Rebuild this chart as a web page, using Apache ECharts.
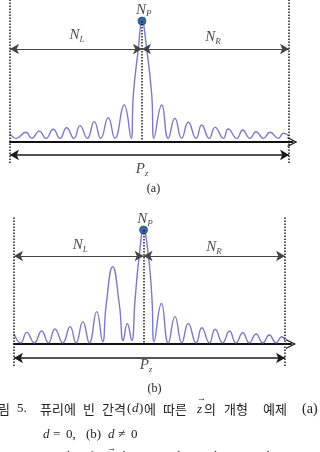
<!DOCTYPE html>
<html>
<head>
<meta charset="utf-8">
<script src="https://cdn.jsdelivr.net/npm/echarts@6/dist/echarts.min.js"></script>
<style>
  html, body { margin: 0; padding: 0; background: #fff; }
  #chart { width: 320px; height: 452px; }
</style>
</head>
<body>
<div id="chart"></div>
<script>
// position along P_z (% of the span) and normalised magnitude
// (a) d = 0
const posA = [0, 2.2, 5.7, 7.8, 10.5, 12.9, 15.5, 17.9, 20.3, 22.9,
  25.1, 27.7, 30.2, 32.5, 35.2, 37.6, 40.9, 43.4, 44.2, 46.0,
  47.3, 49.0, 50.8, 51.6, 54.4, 56.7, 59.1, 61.5, 63.9, 66.7,
  68.7, 71.4, 73.5, 76.5, 78.2, 81.3, 83.4, 86.0, 88.2, 90.8,
  93.2, 96.2, 98.0, 100];
const magA = [0.07, 0.03, 0.08, 0.03, 0.09, 0.03, 0.105, 0.03, 0.118, 0.03,
  0.135, 0.03, 0.168, 0.03, 0.20, 0.03, 0.306, 0.03, 0.39, 0.77,
  1.0, 0.77, 0.39, 0.03, 0.306, 0.03, 0.196, 0.03, 0.163, 0.03,
  0.14, 0.03, 0.121, 0.03, 0.107, 0.03, 0.099, 0.03, 0.085, 0.03,
  0.08, 0.03, 0.072, 0.05];
const peakA = [47.3, 1.0];

// (b) d != 0
const posB = [0, 2.5, 4.7, 7.5, 10.2, 12.7, 15.1, 18.0, 20.7, 22.9,
  25.4, 27.8, 30.5, 32.7, 34.0, 36.4, 38.9, 40.3, 41.8, 43.4,
  44.7, 46.2, 47.8, 49.6, 50.9, 51.7, 54.4, 56.9, 59.4, 61.9,
  64.3, 67.2, 69.3, 72.1, 74.2, 77.0, 79.5, 81.9, 84.4, 86.8,
  89.3, 91.8, 94.2, 96.7, 98.8, 100];
const magB = [0.09, 0.01, 0.102, 0.01, 0.114, 0.01, 0.132, 0.01, 0.152, 0.01,
  0.196, 0.01, 0.284, 0.02, 0.34, 0.678, 0.34, 0.03, 0.18, 0.03,
  0.4, 0.772, 1.0, 0.772, 0.4, 0.02, 0.355, 0.01, 0.24, 0.01,
  0.18, 0.01, 0.143, 0.01, 0.129, 0.01, 0.114, 0.01, 0.099, 0.01,
  0.088, 0.01, 0.079, 0.01, 0.064, 0.03];
const peakB = [47.8, 1.0];

const waveColor = '#7a7ac8';
const ink = '#1a1a1a';
const serif = '"Liberation Serif", "DejaVu Serif", serif';
const kr = '"Noto Sans CJK KR", sans-serif';
const chevron = 'path://M0,10 L5,0 L10,10 L8.7,10 L5,2.6 L1.3,10 Z';

// troughs are emitted twice so the smoothed line keeps a sharp |sinc|-like notch
function wavePoints(xs, ys) {
  const out = [];
  xs.forEach((x, i) => {
    out.push([x, ys[i]]);
    if (i > 0 && i < ys.length - 1 && ys[i] < ys[i - 1] && ys[i] < ys[i + 1]) {
      out.push([x, ys[i]]);
    }
  });
  return out;
}
const sub = (main, s) => '{n|' + main + '}{s|' + s + '}';

const labelRich = {
  n: { fontFamily: serif, fontStyle: 'italic', fontSize: 15, lineHeight: 16, color: ink, verticalAlign: 'top' },
  s: { fontFamily: serif, fontStyle: 'italic', fontSize: 9, lineHeight: 10, color: ink, verticalAlign: 'bottom', padding: [8, 0, 0, 0] }
};

function panel(i, pos, mag, peak, ann) {
  return [
    {
      type: 'line', xAxisIndex: i, yAxisIndex: i,
      data: wavePoints(pos, mag),
      smooth: 0.5, showSymbol: false, z: 2,
      lineStyle: { color: waveColor, width: 1.4 },
      markLine: {
        silent: true, animation: false, symbol: ['none', 'none'],
        label: { show: false },
        lineStyle: { color: ink, width: 1.5, type: [1.5, 1.5] },
        data: [
          { xAxis: 0 },
          { xAxis: 100 },
          [{ coord: [peak[0], peak[1]] }, { coord: [peak[0], 0] }]
        ]
      }
    },
    {
      type: 'scatter', xAxisIndex: i, yAxisIndex: i, z: 4,
      data: [peak], symbolSize: 8,
      itemStyle: { color: '#3468a6', borderColor: '#23507f', borderWidth: 0.8, opacity: 1 }
    },
    {
      type: 'scatter', xAxisIndex: i, yAxisIndex: i, z: 5,
      symbolSize: 0, clip: false, silent: true,
      label: { show: true, position: 'inside', rich: labelRich },
      data: [
        { value: ann.nl, label: { formatter: sub('N', 'L') } },
        { value: ann.nr, label: { formatter: sub('N', 'R') } },
        { value: ann.np, label: { formatter: sub('N', 'P') } },
        { value: ann.pz, label: { formatter: sub('P', 'z') } }
      ],
      markLine: {
        silent: true, animation: false,
        symbol: ['arrow', 'arrow'], symbolSize: [8, 9],
        label: { show: false },
        data: [
          [{ coord: [0, ann.arrowY] }, { coord: [peak[0], ann.arrowY] }],
          [{ coord: [peak[0], ann.arrowY] }, { coord: [100, ann.arrowY] }],
          [{ coord: [0, ann.pzY], lineStyle: { color: ink, width: 1.6, type: 'solid' } },
           { coord: [100, ann.pzY] }]
        ],
        lineStyle: { color: '#444', width: 1, type: 'solid' }
      }
    }
  ];
}

function xAxisFor(i, max) {
  return {
    gridIndex: i, type: 'value', min: 0, max: max,
    axisLine: {
      show: true, onZero: true,
      symbol: ['none', chevron], symbolSize: [10, 11],
      lineStyle: { color: '#111', width: 2 }
    },
    axisTick: { show: false }, axisLabel: { show: false }, splitLine: { show: false }
  };
}

function txt(x, y, text, font, align, vAlign) {
  return {
    type: 'text', x: x, y: y, silent: true,
    style: {
      text: text, font: font, fill: '#222',
      align: align || 'left', verticalAlign: vAlign || 'middle',
      textAlign: align || 'left', textVerticalAlign: vAlign || 'middle'
    }
  };
}

const fKr = '13px ' + kr;
const fSerif = '13px ' + serif;
const fItal = 'italic 13px ' + serif;
const f12 = '12px ' + serif;

const chart = echarts.init(document.getElementById('chart'), null, { renderer: 'canvas' });
chart.setOption({
  animation: false,
  backgroundColor: '#fff',
  grid: [
    { left: 10, top: 0, width: 282.5, height: 163 },
    { left: 14, top: 217, width: 277, height: 149 }
  ],
  xAxis: [xAxisFor(0, 101.25), xAxisFor(1, 102.2)],
  yAxis: [
    { gridIndex: 0, type: 'value', min: -0.174, max: 1.174, show: false },
    { gridIndex: 1, type: 'value', min: -0.193, max: 1.114, show: false }
  ],
  series: [].concat(
    panel(0, posA, magA, peakA, {
      nl: [24.0, 0.876], nr: [72.8, 0.86], np: [47.9, 1.09], pz: [47.3, -0.231],
      arrowY: 0.769, pzY: -0.107
    }),
    panel(1, posB, magB, peakB, {
      nl: [24.4, 0.86], nr: [73.8, 0.842], np: [48.3, 1.088], pz: [48.7, -0.193],
      arrowY: 0.772, pzY: -0.123
    })
  ),
  graphic: [
    txt(153.5, 189, '(a)', f12, 'center'),
    txt(154.5, 389, '(b)', f12, 'center'),
    // caption, line 1
    txt(-14, 409, '그림', fKr),
    txt(17, 409, '5.', fSerif),
    txt(40, 409, '퓨리에', fKr),
    txt(83, 409, '빈', fKr),
    txt(102, 409, '간격', fKr),
    txt(127, 409, '(', fSerif),
    txt(132, 409, 'd', fItal),
    txt(139, 409, ')', fSerif),
    txt(144, 409, '에', fKr),
    txt(163, 409, '따른', fKr),
    txt(197, 410, 'z', fItal),
    txt(197, 399, '→', '9px ' + serif),
    txt(204, 409, '의', fKr),
    txt(224, 409, '개형', fKr),
    txt(263, 409, '예제', fKr),
    txt(302, 409, '(a)', '14px ' + serif),
    // caption, line 2
    txt(43, 435, 'd', fItal),
    txt(53, 435, '=', fSerif),
    txt(66, 435, '0,', fSerif),
    txt(86, 435, '(b)', fSerif),
    txt(108, 435, 'd', fItal),
    txt(118, 435, '≠', fSerif),
    txt(131, 435, '0', fSerif),
    // caption, line 3 (cut by the bottom edge)
    txt(14, 451, 'Fig.', f12, 'right', 'top'),
    txt(17, 451, '5.', f12, 'left', 'top'),
    txt(33, 451, 'Examples of', f12, 'left', 'top'),
    txt(107, 444, '→', '9px ' + serif, 'left', 'top'),
    txt(108, 451, 'z', 'italic 12px ' + serif, 'left', 'top'),
    txt(118, 451, 'shape according to the Fourier bin spacing', f12, 'left', 'top')
  ]
});
</script>
</body>
</html>
